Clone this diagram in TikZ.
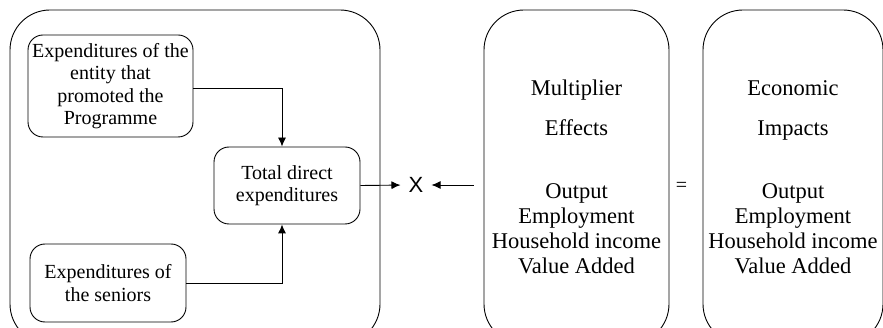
\documentclass[tikz,border=0pt]{standalone}
\usepackage{fontspec}
\setmainfont{Liberation Serif}
\newfontfamily\xfont{Liberation Sans}
\usepackage{tikz}
\usetikzlibrary{arrows.meta, positioning}
\tikzset{
  grpbox/.style={draw=black,line width=0.9pt,rounded corners=40pt,inner sep=0pt},
  expbox/.style={draw=black,line width=0.9pt,rounded corners=15pt,align=center,
    inner sep=0pt,font=\fontsize{20}{22.5}\selectfont},
  effbox/.style={grpbox,align=center,font=\fontsize{22.5}{25}\selectfont},
  diredge/.style={-{Latex[length=9pt,width=8pt]},line width=0.9pt,black},
}

\begin{document}
\begin{tikzpicture}[x=1pt,y=-1pt]
  \useasboundingbox (0,0) rectangle (883,328);
  \clip (0,0) rectangle (883,328);
  % ---- direct expenditures ----
  \node[grpbox,minimum width=370pt,minimum height=334pt] (grp) at (195,177) {};
  \node[expbox,minimum width=165pt,minimum height=102pt] (prog) at (110.5,86)
    {Expenditures of the\\entity that\\promoted the\\Programme};
  \node[expbox,minimum width=156pt,minimum height=78pt] (sen) at (108,283)
    {Expenditures of\\the seniors};
  \node[expbox,minimum width=146pt,minimum height=77pt] (tot) at (287,185.5)
    {Total direct\\expenditures};
  \node[font=\xfont\fontsize{22}{22}\selectfont,inner sep=0pt] (times) at (416,185) {X};
  % ---- multipliers and impacts ----
  \node[effbox,minimum width=185pt,minimum height=334pt] (mult) at (576.5,177)
    {Multiplier\\[15pt]Effects\\[38pt]Output\\Employment\\Household income\\Value Added};
  \node[font=\fontsize{20}{20}\selectfont,inner sep=0pt] (eq) at (681.5,187) {=};
  \node[effbox,minimum width=180pt,minimum height=334pt] (econ) at (793,177)
    {Economic\\[15pt]Impacts\\[38pt]Output\\Employment\\Household income\\Value Added};
  \draw[diredge] (prog.east |- 0,88) -| ([xshift=-5pt]tot.north);
  \draw[diredge] (sen.east) -| ([xshift=-5pt]tot.south);
  \draw[diredge,shorten >=8pt] (tot.east) -- (times.west);
  \draw[diredge,shorten <=10pt,shorten >=8pt] (mult.west |- times) -- (times.east);
\end{tikzpicture}
\end{document}
